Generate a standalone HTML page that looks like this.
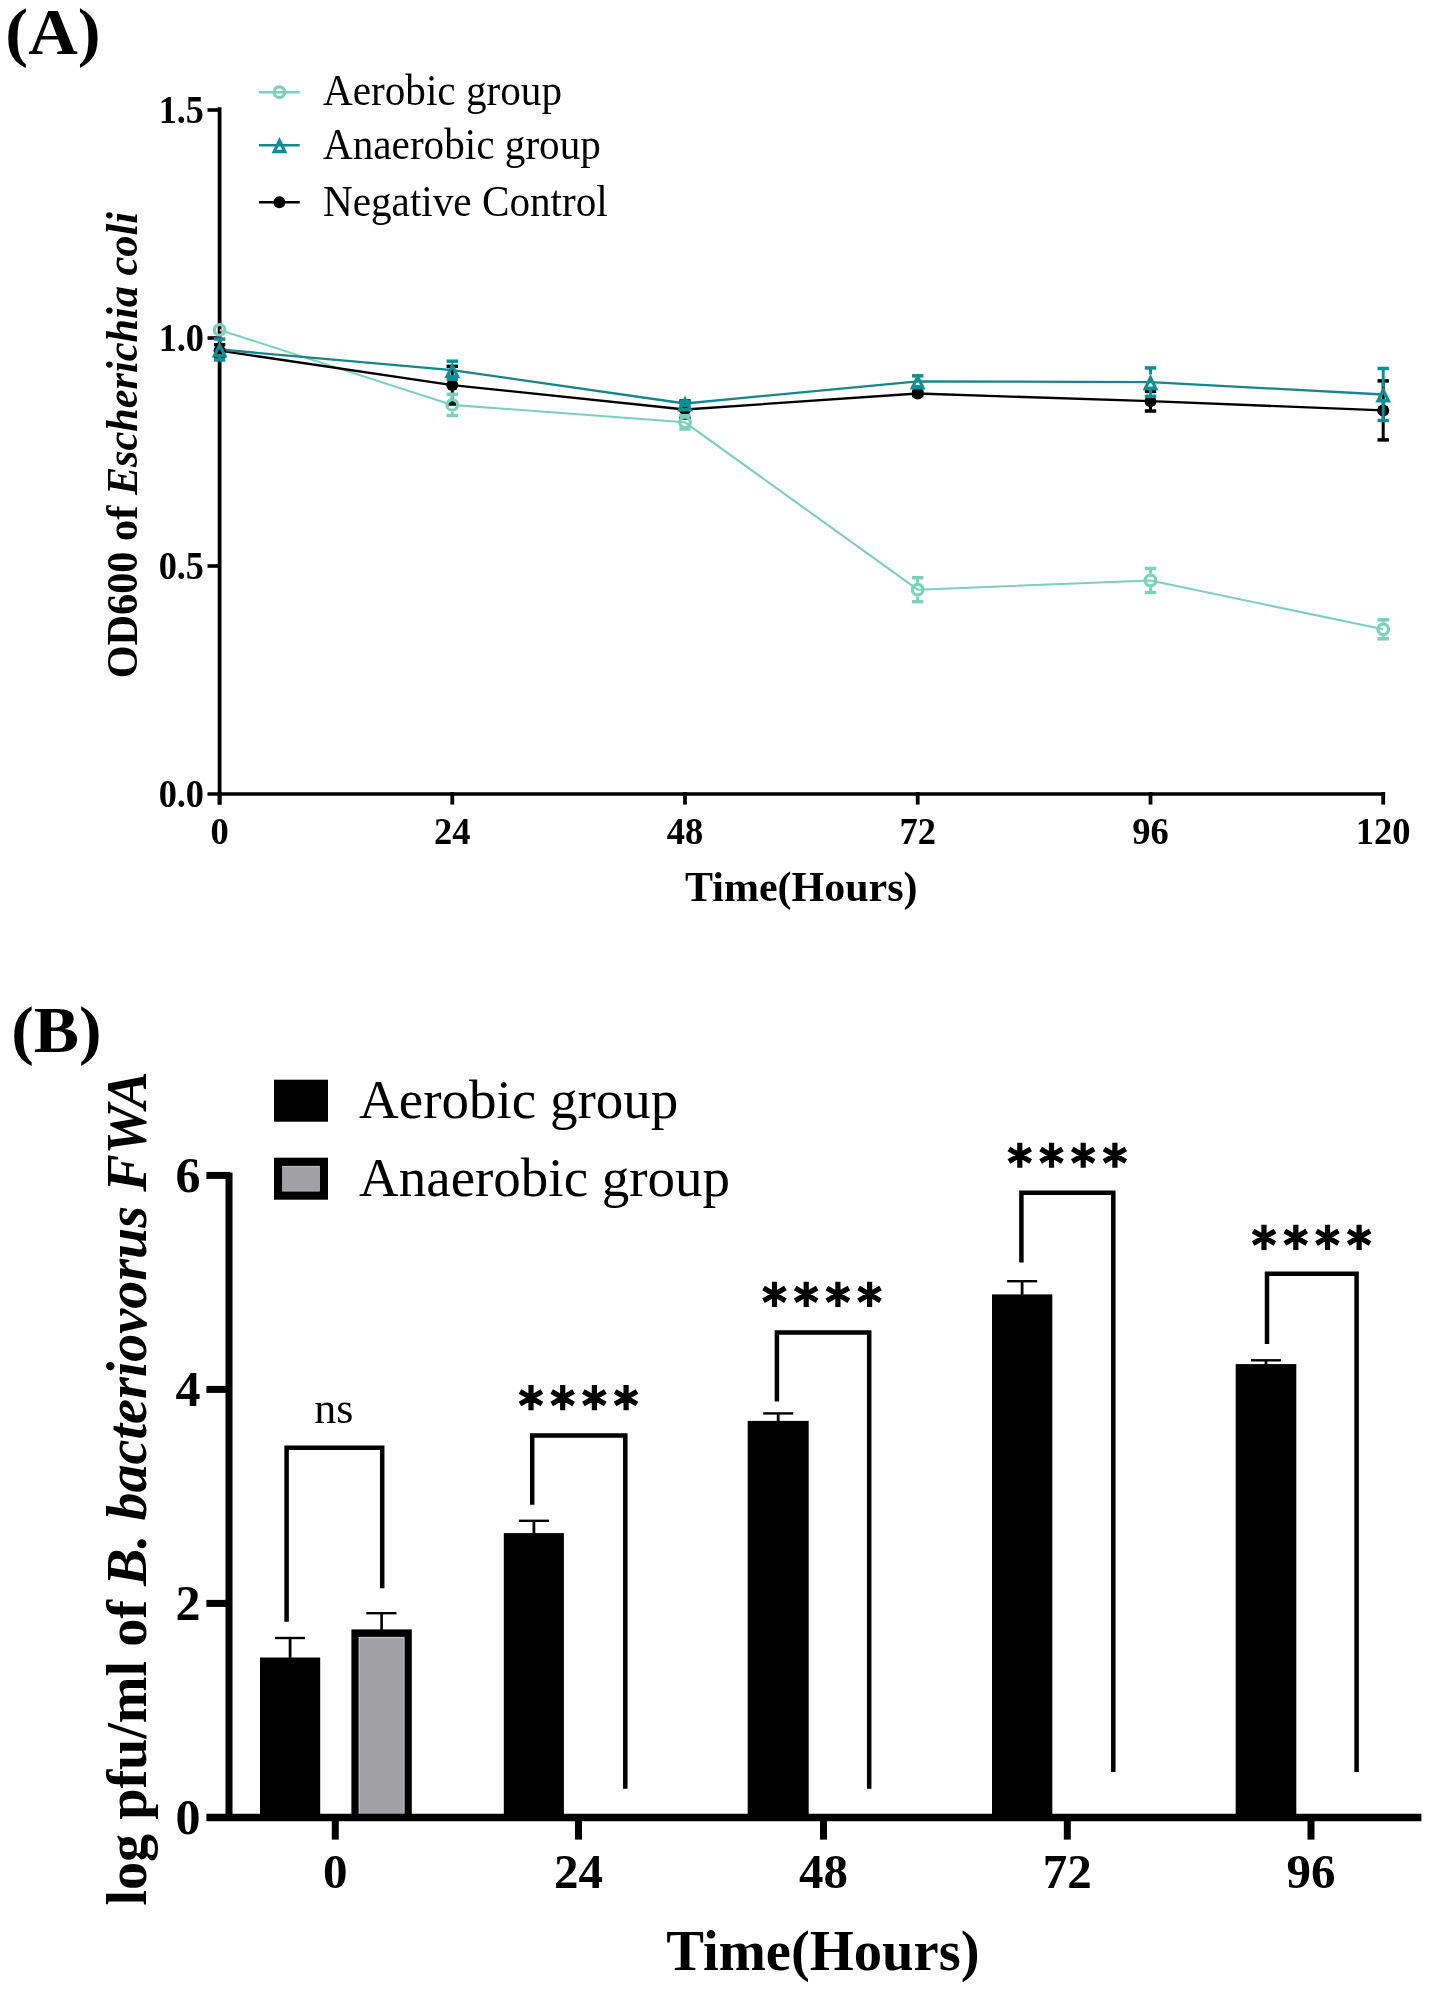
<!DOCTYPE html>
<html><head><meta charset="utf-8"><style>
html,body{margin:0;padding:0;background:#fff;}
svg{display:block;will-change:transform;}
text{font-family:"Liberation Serif",serif;fill:#000;}
.b{font-weight:bold;}
.r{font-weight:normal;}
.bi{font-weight:bold;font-style:italic;}
</style></head><body>
<svg width="1430" height="1991" viewBox="0 0 1430 1991">
<rect width="1430" height="1991" fill="#fff"/>
<line x1="219.6" y1="107.2" x2="219.6" y2="804.6" stroke="#000" stroke-width="3.8"/>
<line x1="207.5" y1="794" x2="1385.1" y2="794" stroke="#000" stroke-width="3.6"/>
<line x1="207.5" y1="110.0" x2="221" y2="110.0" stroke="#000" stroke-width="3.6"/>
<line x1="207.5" y1="338.0" x2="221" y2="338.0" stroke="#000" stroke-width="3.6"/>
<line x1="207.5" y1="566.0" x2="221" y2="566.0" stroke="#000" stroke-width="3.6"/>
<line x1="219.6" y1="792" x2="219.6" y2="804.6" stroke="#000" stroke-width="3.8"/>
<line x1="452.3" y1="792" x2="452.3" y2="804.6" stroke="#000" stroke-width="3.8"/>
<line x1="685.0" y1="792" x2="685.0" y2="804.6" stroke="#000" stroke-width="3.8"/>
<line x1="917.7" y1="792" x2="917.7" y2="804.6" stroke="#000" stroke-width="3.8"/>
<line x1="1150.5" y1="792" x2="1150.5" y2="804.6" stroke="#000" stroke-width="3.8"/>
<line x1="1383.2" y1="792" x2="1383.2" y2="804.6" stroke="#000" stroke-width="3.8"/>
<text transform="translate(204,122.6) scale(0.955,1.03)" class="b" font-size="38" text-anchor="end">1.5</text>
<text transform="translate(204,350.6) scale(0.955,1.03)" class="b" font-size="38" text-anchor="end">1.0</text>
<text transform="translate(204,578.6) scale(0.955,1.03)" class="b" font-size="38" text-anchor="end">0.5</text>
<text transform="translate(204,806.6) scale(0.955,1.03)" class="b" font-size="38" text-anchor="end">0.0</text>
<text transform="translate(219.6,843.9) scale(0.96,1.02)" class="b" font-size="38" text-anchor="middle">0</text>
<text transform="translate(452.3,843.9) scale(0.96,1.02)" class="b" font-size="38" text-anchor="middle">24</text>
<text transform="translate(685.0,843.9) scale(0.96,1.02)" class="b" font-size="38" text-anchor="middle">48</text>
<text transform="translate(917.7,843.9) scale(0.96,1.02)" class="b" font-size="38" text-anchor="middle">72</text>
<text transform="translate(1150.5,843.9) scale(0.96,1.02)" class="b" font-size="38" text-anchor="middle">96</text>
<text transform="translate(1383.2,843.9) scale(0.96,1.02)" class="b" font-size="38" text-anchor="middle">120</text>
<text x="801.3" y="901.4" class="b" font-size="42" text-anchor="middle">Time(Hours)</text>
<text transform="translate(136.8,445.2) rotate(-90) scale(1,1.066)" class="b" font-size="42.3" text-anchor="middle">OD600 of <tspan class="bi">Escherichia coli</tspan></text>
<text transform="translate(5.3,53.6) scale(1.024,0.97)" class="b" font-size="67">(A)</text>
<polyline points="219.6,329.9 452.3,404.9 685.0,422.3 917.7,589.7 1150.5,580.5 1383.2,629.3" fill="none" stroke="#7dd0b9" stroke-width="2.1" stroke-linejoin="round"/>
<polyline points="219.6,350.7 452.3,385.1 685.0,409.5 917.7,393.5 1150.5,401.2 1383.2,410.4" fill="none" stroke="#000" stroke-width="2.3" stroke-linejoin="round"/>
<polyline points="219.6,349.5 452.3,370.2 685.0,403.5 917.7,381.3 1150.5,382.1 1383.2,394.5" fill="none" stroke="#17858b" stroke-width="2.3" stroke-linejoin="round"/>
<line x1="213.9" y1="344.7" x2="225.3" y2="344.7" stroke="#000" stroke-width="3.5"/><line x1="213.9" y1="356.7" x2="225.3" y2="356.7" stroke="#000" stroke-width="3.5"/>
<circle cx="219.6" cy="350.7" r="6" fill="#000"/>
<line x1="452.3" y1="366.3" x2="452.3" y2="379.6" stroke="#000" stroke-width="3.0"/><line x1="452.3" y1="390.6" x2="452.3" y2="403.9" stroke="#000" stroke-width="3.0"/><line x1="446.6" y1="366.3" x2="458.0" y2="366.3" stroke="#000" stroke-width="3.5"/><line x1="446.6" y1="403.9" x2="458.0" y2="403.9" stroke="#000" stroke-width="3.5"/>
<circle cx="452.3" cy="385.1" r="6" fill="#000"/>
<line x1="685.0" y1="401.0" x2="685.0" y2="404.0" stroke="#000" stroke-width="3.0"/><line x1="685.0" y1="415.0" x2="685.0" y2="418.0" stroke="#000" stroke-width="3.0"/><line x1="679.3" y1="401.0" x2="690.7" y2="401.0" stroke="#000" stroke-width="3.5"/><line x1="679.3" y1="418.0" x2="690.7" y2="418.0" stroke="#000" stroke-width="3.5"/>
<circle cx="685.0" cy="409.5" r="6" fill="#000"/>
<line x1="912.0" y1="391.5" x2="923.4" y2="391.5" stroke="#000" stroke-width="3.5"/><line x1="912.0" y1="395.5" x2="923.4" y2="395.5" stroke="#000" stroke-width="3.5"/>
<circle cx="917.7" cy="393.5" r="6" fill="#000"/>
<line x1="1150.5" y1="391.4" x2="1150.5" y2="395.7" stroke="#000" stroke-width="3.0"/><line x1="1150.5" y1="406.7" x2="1150.5" y2="411.0" stroke="#000" stroke-width="3.0"/><line x1="1144.8" y1="391.4" x2="1156.2" y2="391.4" stroke="#000" stroke-width="3.5"/><line x1="1144.8" y1="411.0" x2="1156.2" y2="411.0" stroke="#000" stroke-width="3.5"/>
<circle cx="1150.5" cy="401.2" r="6" fill="#000"/>
<line x1="1383.2" y1="380.9" x2="1383.2" y2="404.9" stroke="#000" stroke-width="3.0"/><line x1="1383.2" y1="415.9" x2="1383.2" y2="439.9" stroke="#000" stroke-width="3.0"/><line x1="1377.5" y1="380.9" x2="1388.9" y2="380.9" stroke="#000" stroke-width="3.5"/><line x1="1377.5" y1="439.9" x2="1388.9" y2="439.9" stroke="#000" stroke-width="3.5"/>
<circle cx="1383.2" cy="410.4" r="6" fill="#000"/>

<circle cx="219.6" cy="329.9" r="5.3" fill="none" stroke="#7dd0b9" stroke-width="3.3"/>
<line x1="452.3" y1="394.3" x2="452.3" y2="398.0" stroke="#7dd0b9" stroke-width="3.0"/><line x1="452.3" y1="411.8" x2="452.3" y2="415.5" stroke="#7dd0b9" stroke-width="3.0"/><line x1="446.6" y1="394.3" x2="458.0" y2="394.3" stroke="#7dd0b9" stroke-width="3.5"/><line x1="446.6" y1="415.5" x2="458.0" y2="415.5" stroke="#7dd0b9" stroke-width="3.5"/>
<circle cx="452.3" cy="404.9" r="5.3" fill="none" stroke="#7dd0b9" stroke-width="3.3"/>
<line x1="679.3" y1="415.6" x2="690.7" y2="415.6" stroke="#7dd0b9" stroke-width="3.5"/><line x1="679.3" y1="429.0" x2="690.7" y2="429.0" stroke="#7dd0b9" stroke-width="3.5"/>
<circle cx="685.0" cy="422.3" r="5.3" fill="none" stroke="#7dd0b9" stroke-width="3.3"/>
<line x1="917.7" y1="577.7" x2="917.7" y2="582.8" stroke="#7dd0b9" stroke-width="3.0"/><line x1="917.7" y1="596.6" x2="917.7" y2="601.7" stroke="#7dd0b9" stroke-width="3.0"/><line x1="912.0" y1="577.7" x2="923.4" y2="577.7" stroke="#7dd0b9" stroke-width="3.5"/><line x1="912.0" y1="601.7" x2="923.4" y2="601.7" stroke="#7dd0b9" stroke-width="3.5"/>
<circle cx="917.7" cy="589.7" r="5.3" fill="none" stroke="#7dd0b9" stroke-width="3.3"/>
<line x1="1150.5" y1="568.5" x2="1150.5" y2="573.6" stroke="#7dd0b9" stroke-width="3.0"/><line x1="1150.5" y1="587.4" x2="1150.5" y2="592.5" stroke="#7dd0b9" stroke-width="3.0"/><line x1="1144.8" y1="568.5" x2="1156.2" y2="568.5" stroke="#7dd0b9" stroke-width="3.5"/><line x1="1144.8" y1="592.5" x2="1156.2" y2="592.5" stroke="#7dd0b9" stroke-width="3.5"/>
<circle cx="1150.5" cy="580.5" r="5.3" fill="none" stroke="#7dd0b9" stroke-width="3.3"/>
<line x1="1383.2" y1="619.8" x2="1383.2" y2="622.4" stroke="#7dd0b9" stroke-width="3.0"/><line x1="1383.2" y1="636.2" x2="1383.2" y2="638.8" stroke="#7dd0b9" stroke-width="3.0"/><line x1="1377.5" y1="619.8" x2="1388.9" y2="619.8" stroke="#7dd0b9" stroke-width="3.5"/><line x1="1377.5" y1="638.8" x2="1388.9" y2="638.8" stroke="#7dd0b9" stroke-width="3.5"/>
<circle cx="1383.2" cy="629.3" r="5.3" fill="none" stroke="#7dd0b9" stroke-width="3.3"/>
<line x1="219.6" y1="339.0" x2="219.6" y2="342.0" stroke="#0f8f95" stroke-width="3.0"/><line x1="219.6" y1="357.0" x2="219.6" y2="360.0" stroke="#0f8f95" stroke-width="3.0"/><line x1="213.9" y1="339.0" x2="225.3" y2="339.0" stroke="#0f8f95" stroke-width="3.5"/><line x1="213.9" y1="360.0" x2="225.3" y2="360.0" stroke="#0f8f95" stroke-width="3.5"/>
<path d="M219.60,341.40L211.70,357.60L227.50,357.60ZM219.60,348.64L222.21,353.98L216.99,353.98Z" fill="#0f8f95" fill-rule="evenodd"/>
<line x1="452.3" y1="361.2" x2="452.3" y2="362.7" stroke="#0f8f95" stroke-width="3.0"/><line x1="452.3" y1="377.7" x2="452.3" y2="379.2" stroke="#0f8f95" stroke-width="3.0"/><line x1="446.6" y1="361.2" x2="458.0" y2="361.2" stroke="#0f8f95" stroke-width="3.5"/><line x1="446.6" y1="379.2" x2="458.0" y2="379.2" stroke="#0f8f95" stroke-width="3.5"/>
<path d="M452.30,362.10L444.40,378.30L460.20,378.30ZM452.30,369.34L454.91,374.68L449.69,374.68Z" fill="#0f8f95" fill-rule="evenodd"/>
<line x1="679.3" y1="401.5" x2="690.7" y2="401.5" stroke="#0f8f95" stroke-width="3.5"/><line x1="679.3" y1="405.5" x2="690.7" y2="405.5" stroke="#0f8f95" stroke-width="3.5"/>
<path d="M685.00,395.40L677.10,411.60L692.90,411.60ZM685.00,402.64L687.61,407.98L682.39,407.98Z" fill="#0f8f95" fill-rule="evenodd"/>
<line x1="912.0" y1="375.8" x2="923.4" y2="375.8" stroke="#0f8f95" stroke-width="3.5"/><line x1="912.0" y1="386.8" x2="923.4" y2="386.8" stroke="#0f8f95" stroke-width="3.5"/>
<path d="M917.70,373.20L909.80,389.40L925.60,389.40ZM917.70,380.44L920.31,385.78L915.09,385.78Z" fill="#0f8f95" fill-rule="evenodd"/>
<line x1="1150.5" y1="367.9" x2="1150.5" y2="374.6" stroke="#0f8f95" stroke-width="3.0"/><line x1="1150.5" y1="389.6" x2="1150.5" y2="396.3" stroke="#0f8f95" stroke-width="3.0"/><line x1="1144.8" y1="367.9" x2="1156.2" y2="367.9" stroke="#0f8f95" stroke-width="3.5"/><line x1="1144.8" y1="396.3" x2="1156.2" y2="396.3" stroke="#0f8f95" stroke-width="3.5"/>
<path d="M1150.50,374.00L1142.60,390.20L1158.40,390.20ZM1150.50,381.24L1153.11,386.58L1147.89,386.58Z" fill="#0f8f95" fill-rule="evenodd"/>
<line x1="1383.2" y1="368.5" x2="1383.2" y2="387.0" stroke="#0f8f95" stroke-width="3.0"/><line x1="1383.2" y1="402.0" x2="1383.2" y2="420.5" stroke="#0f8f95" stroke-width="3.0"/><line x1="1377.5" y1="368.5" x2="1388.9" y2="368.5" stroke="#0f8f95" stroke-width="3.5"/><line x1="1377.5" y1="420.5" x2="1388.9" y2="420.5" stroke="#0f8f95" stroke-width="3.5"/>
<path d="M1383.20,386.40L1375.30,402.60L1391.10,402.60ZM1383.20,393.64L1385.81,398.98L1380.59,398.98Z" fill="#0f8f95" fill-rule="evenodd"/>
<line x1="259" y1="92.2" x2="299.7" y2="92.2" stroke="#7dd0b9" stroke-width="2.4"/>
<circle cx="279.4" cy="92.2" r="5.3" fill="none" stroke="#7dd0b9" stroke-width="3.3"/>
<text transform="translate(323,105.3) scale(1,1.06)" class="r" font-size="41.2">Aerobic group</text>
<line x1="259" y1="145.2" x2="299.7" y2="145.2" stroke="#17858b" stroke-width="2.4"/>
<path d="M279.50,137.10L271.60,153.30L287.40,153.30ZM279.50,144.34L282.11,149.68L276.89,149.68Z" fill="#0f8f95" fill-rule="evenodd"/>
<text transform="translate(323,158.5) scale(1,1.06)" class="r" font-size="41.2">Anaerobic group</text>
<line x1="259" y1="202.2" x2="299.7" y2="202.2" stroke="#000" stroke-width="2.4"/>
<circle cx="279.4" cy="202.2" r="6" fill="#000"/>
<text transform="translate(323,215.6) scale(1,1.06)" class="r" font-size="41.2">Negative Control</text>
<text transform="translate(11.3,1052.0) scale(1.012,0.985)" class="b" font-size="67">(B)</text>
<line x1="290.1" y1="1638.0" x2="290.1" y2="1658.5" stroke="#000" stroke-width="2.8"/>
<line x1="275.1" y1="1638.0" x2="305.1" y2="1638.0" stroke="#000" stroke-width="2.4"/>
<rect x="260" y="1657.5" width="60.2" height="159.9" fill="#000"/>
<line x1="533.9" y1="1520.8" x2="533.9" y2="1534.1" stroke="#000" stroke-width="2.8"/>
<line x1="518.9" y1="1520.8" x2="548.9" y2="1520.8" stroke="#000" stroke-width="2.4"/>
<rect x="503.8" y="1533.1" width="60.1" height="284.3" fill="#000"/>
<line x1="778.2" y1="1413.4" x2="778.2" y2="1421.9" stroke="#000" stroke-width="2.8"/>
<line x1="763.2" y1="1413.4" x2="793.2" y2="1413.4" stroke="#000" stroke-width="2.4"/>
<rect x="747.7" y="1420.9" width="61.0" height="396.5" fill="#000"/>
<line x1="1022.1" y1="1281.2" x2="1022.1" y2="1295.4" stroke="#000" stroke-width="2.8"/>
<line x1="1007.1" y1="1281.2" x2="1037.2" y2="1281.2" stroke="#000" stroke-width="2.4"/>
<rect x="992" y="1294.4" width="60.3" height="523.0" fill="#000"/>
<line x1="1266.0" y1="1360.3" x2="1266.0" y2="1365.1" stroke="#000" stroke-width="2.8"/>
<line x1="1251.0" y1="1360.3" x2="1281.0" y2="1360.3" stroke="#000" stroke-width="2.4"/>
<rect x="1235.7" y="1364.1" width="60.6" height="453.3" fill="#000"/>
<line x1="381.6" y1="1613.2" x2="381.6" y2="1630" stroke="#000" stroke-width="2.6"/>
<line x1="366.3" y1="1613.2" x2="396.5" y2="1613.2" stroke="#000" stroke-width="2.4"/>
<rect x="351.4" y="1629.4" width="60.4" height="190" fill="#000"/>
<rect x="358.6" y="1636.9" width="46" height="180" fill="#c9c9cd"/>
<rect x="359.6" y="1637.9" width="44" height="180" fill="#a1a0a5"/>
<line x1="229" y1="1172.5" x2="229" y2="1821" stroke="#000" stroke-width="7"/>
<line x1="206.4" y1="1817.4" x2="1421.4" y2="1817.4" stroke="#000" stroke-width="7.5"/>
<line x1="206.4" y1="1603.4" x2="230" y2="1603.4" stroke="#000" stroke-width="7"/>
<line x1="206.4" y1="1389.4" x2="230" y2="1389.4" stroke="#000" stroke-width="7"/>
<line x1="206.4" y1="1175.4" x2="230" y2="1175.4" stroke="#000" stroke-width="7"/>
<line x1="335.3" y1="1815" x2="335.3" y2="1839.6" stroke="#000" stroke-width="7"/>
<line x1="578.5" y1="1815" x2="578.5" y2="1839.6" stroke="#000" stroke-width="7"/>
<line x1="823.5" y1="1815" x2="823.5" y2="1839.6" stroke="#000" stroke-width="7"/>
<line x1="1067.3" y1="1815" x2="1067.3" y2="1839.6" stroke="#000" stroke-width="7"/>
<line x1="1311.0" y1="1815" x2="1311.0" y2="1839.6" stroke="#000" stroke-width="7"/>
<text x="200.5" y="1834.0" class="b" font-size="50" text-anchor="end">0</text>
<text x="200.5" y="1620.0" class="b" font-size="50" text-anchor="end">2</text>
<text x="200.5" y="1406.0" class="b" font-size="50" text-anchor="end">4</text>
<text x="200.5" y="1192.0" class="b" font-size="50" text-anchor="end">6</text>
<text x="335.3" y="1888" class="b" font-size="49" text-anchor="middle">0</text>
<text x="578.5" y="1888" class="b" font-size="49" text-anchor="middle">24</text>
<text x="823.5" y="1888" class="b" font-size="49" text-anchor="middle">48</text>
<text x="1067.3" y="1888" class="b" font-size="49" text-anchor="middle">72</text>
<text x="1311.0" y="1888" class="b" font-size="49" text-anchor="middle">96</text>
<text x="822.9" y="1970" class="b" font-size="56.6" text-anchor="middle">Time(Hours)</text>
<text transform="translate(146,1488.4) rotate(-90)" class="b" font-size="56.1" text-anchor="middle">log pfu/ml of <tspan class="bi">B. bacteriovorus FWA</tspan></text>
<rect x="274" y="1079.7" width="54" height="42" fill="#000"/>
<rect x="274" y="1157.7" width="54" height="42" fill="#000"/>
<rect x="282.2" y="1165.9" width="37.6" height="25.6" fill="#c9c9cd"/>
<rect x="283" y="1166.7" width="36" height="24" fill="#a1a0a5"/>
<text x="359" y="1118.2" class="r" font-size="55">Aerobic group</text>
<text x="359" y="1196.2" class="r" font-size="55">Anaerobic group</text>
<polyline points="286.6,1621.8 286.6,1447.7 382.2,1447.7 382.2,1588.2" fill="none" stroke="#000" stroke-width="4.5" stroke-linejoin="miter"/>
<polyline points="532.2,1504.8 532.2,1435.6 625.3,1435.6 625.3,1788.7" fill="none" stroke="#000" stroke-width="4.5" stroke-linejoin="miter"/>
<polyline points="776.9,1401.5 776.9,1332.6 869.2,1332.6 869.2,1788.7" fill="none" stroke="#000" stroke-width="4.5" stroke-linejoin="miter"/>
<polyline points="1021.4,1262.4 1021.4,1192.7 1113.3,1192.7 1113.3,1772" fill="none" stroke="#000" stroke-width="4.5" stroke-linejoin="miter"/>
<polyline points="1267,1344.1 1267,1273.7 1356.6,1273.7 1356.6,1772" fill="none" stroke="#000" stroke-width="4.5" stroke-linejoin="miter"/>
<text x="333.8" y="1422.5" class="r" font-size="44" text-anchor="middle">ns</text>
<path d="M531.0,1385.1L531.0,1410.3M520.0,1391.4L541.9,1404.0M541.9,1391.4L520.0,1404.0M562.7,1385.1L562.7,1410.3M551.7,1391.4L573.6,1404.0M573.6,1391.4L551.7,1404.0M594.4,1385.1L594.4,1410.3M583.4,1391.4L605.3,1404.0M605.3,1391.4L583.4,1404.0M626.1,1385.1L626.1,1410.3M615.1,1391.4L637.0,1404.0M637.0,1391.4L615.1,1404.0" stroke="#000" stroke-width="5.2" fill="none"/>
<path d="M774.5,1281.8L774.5,1307.0M763.5,1288.1L785.4,1300.7M785.4,1288.1L763.5,1300.7M806.2,1281.8L806.2,1307.0M795.2,1288.1L817.1,1300.7M817.1,1288.1L795.2,1300.7M837.9,1281.8L837.9,1307.0M826.9,1288.1L848.8,1300.7M848.8,1288.1L826.9,1300.7M869.6,1281.8L869.6,1307.0M858.6,1288.1L880.5,1300.7M880.5,1288.1L858.6,1300.7" stroke="#000" stroke-width="5.2" fill="none"/>
<path d="M1019.8,1142.7L1019.8,1167.8M1008.9,1149.0L1030.7,1161.5M1030.7,1149.0L1008.9,1161.5M1051.5,1142.7L1051.5,1167.8M1040.6,1149.0L1062.4,1161.5M1062.4,1149.0L1040.6,1161.5M1083.2,1142.7L1083.2,1167.8M1072.3,1149.0L1094.1,1161.5M1094.1,1149.0L1072.3,1161.5M1114.9,1142.7L1114.9,1167.8M1104.0,1149.0L1125.8,1161.5M1125.8,1149.0L1104.0,1161.5" stroke="#000" stroke-width="5.2" fill="none"/>
<path d="M1264.0,1224.8L1264.0,1249.9M1253.1,1231.0L1275.0,1243.6M1275.0,1231.0L1253.1,1243.6M1295.8,1224.8L1295.8,1249.9M1284.8,1231.0L1306.7,1243.6M1306.7,1231.0L1284.8,1243.6M1327.5,1224.8L1327.5,1249.9M1316.5,1231.0L1338.4,1243.6M1338.4,1231.0L1316.5,1243.6M1359.1,1224.8L1359.1,1249.9M1348.2,1231.0L1370.1,1243.6M1370.1,1231.0L1348.2,1243.6" stroke="#000" stroke-width="5.2" fill="none"/>
</svg>
</body></html>
